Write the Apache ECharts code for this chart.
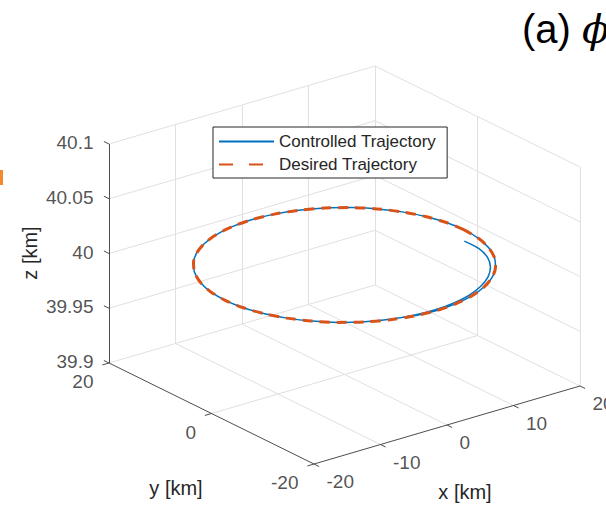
<!DOCTYPE html>
<html>
<head>
<meta charset="utf-8">
<script src="https://cdn.jsdelivr.net/npm/echarts@6/dist/echarts.min.js"></script>
<style>
    html, body { margin: 0; padding: 0; background: #fff; }
    #chart { width: 606px; height: 506px; }
</style>
</head>
<body>
<div id="chart"></div>
<script>
// axis ticks (km)
var xTicks = [-20, -10, 0, 10, 20];
var yTicks = [-20, 0, 20];
var zTicks = [39.9, 39.95, 40, 40.05, 40.1];

// desired circular trajectory, r = 18 km at 40 km
var desiredX = [18, 17.73, 16.91, 15.59, 13.79, 11.57, 9, 6.16, 3.13, 0, -3.13, -6.16, -9, -11.57, -13.79, -15.59, -16.91, -17.73,
    -18, -17.73, -16.91, -15.59, -13.79, -11.57, -9, -6.16, -3.13, 0, 3.13, 6.16, 9, 11.57, 13.79, 15.59, 16.91, 17.73, 18];
var desiredY = [0, 3.13, 6.16, 9, 11.57, 13.79, 15.59, 16.91, 17.73, 18, 17.73, 16.91, 15.59, 13.79, 11.57, 9, 6.16, 3.13,
    0, -3.13, -6.16, -9, -11.57, -13.79, -15.59, -16.91, -17.73, -18, -17.73, -16.91, -15.59, -13.79, -11.57, -9, -6.16, -3.13, 0];
var desiredZ = 40;

// controlled trajectory: starts inside the circle and settles onto it
var ctrlX = [15.86, 15.79, 14.90, 13.33, 11.25, 8.78, 6.02, 3.06, 0, -3.09, -6.11, -8.98, -11.57, -13.79, -15.59, -16.91, -17.73,
    -18, -17.73, -16.91, -15.59, -13.79, -11.57, -9, -6.16, -3.13, 0, 3.13, 6.16, 9, 11.57, 13.79, 15.59, 16.91, 17.73,
    18, 17.73, 16.91, 15.59, 13.79, 11.57, 9, 6.16, 3.13, 0, -3.13];
var ctrlY = [-2.80, -5.75, -8.60, -11.18, -13.41, -15.20, -16.54, -17.38, -17.72, -17.53, -16.80, -15.55, -13.79, -11.57, -9, -6.16, -3.13,
    0, 3.13, 6.16, 9, 11.57, 13.79, 15.59, 16.91, 17.73, 18, 17.73, 16.91, 15.59, 13.79, 11.57, 9, 6.16, 3.13,
    0, -3.13, -6.16, -9, -11.57, -13.79, -15.59, -16.91, -17.73, -18, -17.73];
var ctrlZ = 40;

var W = 606, H = 506;
var xMin = xTicks[0], xMax = xTicks[xTicks.length - 1];
var yMin = yTicks[0], yMax = yTicks[yTicks.length - 1];
var zMin = zTicks[0], zMax = zTicks[zTicks.length - 1];

// fixed 3d view: screen px of (xMin, yMin, zMin) and px per km along each axis
var view = {
    ox: 314, oy: 464,
    ex: [6.65, -1.95],
    ey: [-5.125, -2.525],
    ez: -1095
};
function proj(x, y, z) {
    var dx = x - xMin, dy = y - yMin, dz = z - zMin;
    return [
        view.ox + dx * view.ex[0] + dy * view.ey[0],
        view.oy + dx * view.ex[1] + dy * view.ey[1] + dz * view.ez
    ];
}

var gridSegs = [], axisSegs = [];
function seg(list, a, b) {
    list.push({ coords: [proj(a[0], a[1], a[2]), proj(b[0], b[1], b[2])] });
}
// floor + back walls
xTicks.forEach(function(x) {
    if (x === xMin) return;
    seg(gridSegs, [x, yMin, zMin], [x, yMax, zMin]);
    seg(gridSegs, [x, yMax, zMin], [x, yMax, zMax]);
});
yTicks.forEach(function(y) {
    if (y !== yMin) seg(gridSegs, [xMin, y, zMin], [xMax, y, zMin]);
    if (y !== yMax) seg(gridSegs, [xMax, y, zMin], [xMax, y, zMax]);
});
zTicks.forEach(function(z) {
    if (z === zMin) return;
    seg(gridSegs, [xMin, yMax, z], [xMax, yMax, z]);
    seg(gridSegs, [xMax, yMin, z], [xMax, yMax, z]);
});
// axis lines and outward ticks
seg(axisSegs, [xMin, yMin, zMin], [xMax, yMin, zMin]);
seg(axisSegs, [xMin, yMin, zMin], [xMin, yMax, zMin]);
seg(axisSegs, [xMin, yMax, zMin], [xMin, yMax, zMax]);
xTicks.forEach(function(x) { seg(axisSegs, [x, yMin, zMin], [x, yMin - 1, zMin]); });
yTicks.forEach(function(y) { seg(axisSegs, [xMin, y, zMin], [xMin - 1, y, zMin]); });
zTicks.forEach(function(z) { seg(axisSegs, [xMin, yMax, z], [xMin, yMax + 1, z]); });

var xLab = xTicks.map(function(x) { return { value: proj(x, yMin, zMin), name: String(x) }; });
var yLab = yTicks.map(function(y) { return { value: proj(xMin, y, zMin), name: String(y) }; });
var zLab = zTicks.map(function(z) { return { value: proj(xMin, yMax, z), name: String(z) }; });

var desired = desiredX.map(function(x, i) { return proj(x, desiredY[i], desiredZ); });
var ctrl = ctrlX.map(function(x, i) { return proj(x, ctrlY[i], ctrlZ); });

var FONT = 'Liberation Sans, Arial, Helvetica, sans-serif';
var TXT = '#262626';

function labelSeries(data, pos, align) {
    return {
        type: 'scatter',
        data: data,
        symbolSize: 1,
        itemStyle: { color: 'rgba(0,0,0,0)' },
        silent: true,
        label: {
            show: true,
            formatter: '{b}',
            position: pos,
            align: align,
            verticalAlign: 'middle',
            fontSize: 19,
            fontFamily: FONT,
            color: TXT
        }
    };
}

var chart = echarts.init(document.getElementById('chart'), null, { renderer: 'svg' });
chart.setOption({
    animation: false,
    backgroundColor: '#fff',
    title: {
        text: '(a) {p|ϕ}',
        left: 517,
        top: 4,
        textStyle: {
            fontSize: 40,
            fontWeight: 'normal',
            fontFamily: FONT,
            color: '#000',
            rich: {
                p: { fontSize: 40, fontStyle: 'italic', fontFamily: 'DejaVu Serif', color: '#000' }
            }
        }
    },
    legend: {
        data: [
            { name: 'Controlled Trajectory' },
            { name: 'Desired Trajectory', lineStyle: { type: [14, 16] } }
        ],
        orient: 'vertical',
        left: 213,
        top: 127,
        itemWidth: 55,
        itemHeight: 14,
        itemGap: 6,
        padding: [6, 11, 5, 5],
        borderColor: TXT,
        borderWidth: 1,
        backgroundColor: '#fff',
        selectedMode: false,
        itemStyle: { opacity: 0, borderWidth: 0 },
        textStyle: { fontSize: 17, fontFamily: FONT, color: TXT }
    },
    grid: { left: 0, right: 0, top: 0, bottom: 0 },
    xAxis: { type: 'value', min: 0, max: W, show: false },
    yAxis: { type: 'value', min: 0, max: H, inverse: true, show: false },
    series: [
        {
            type: 'lines',
            coordinateSystem: 'cartesian2d',
            data: gridSegs,
            silent: true,
            lineStyle: { color: '#e0e0e0', width: 1, opacity: 1 }
        },
        {
            type: 'lines',
            coordinateSystem: 'cartesian2d',
            data: axisSegs,
            silent: true,
            lineStyle: { color: '#4d4d4d', width: 1, opacity: 1 }
        },
        labelSeries(xLab, [13, 18], 'left'),
        labelSeries(yLab, [-15, 19], 'right'),
        labelSeries(zLab, [-15, -1], 'right'),
        {
            name: 'Controlled Trajectory',
            type: 'line',
            data: ctrl,
            smooth: 0.3,
            symbol: 'none',
            lineStyle: { color: '#0072BD', width: 1.5 },
            itemStyle: { color: '#0072BD' }
        },
        {
            name: 'Desired Trajectory',
            type: 'line',
            data: desired,
            smooth: 0.3,
            symbol: 'none',
            lineStyle: { color: '#D95319', width: 3, type: [10, 7] },
            itemStyle: { color: '#D95319' }
        }
    ],
    graphic: [
        { type: 'text', x: 176, y: 488, style: { text: 'y [km]', font: '20px ' + FONT, fill: TXT, align: 'center', verticalAlign: 'middle' } },
        { type: 'text', x: 465, y: 492, style: { text: 'x [km]', font: '20px ' + FONT, fill: TXT, align: 'center', verticalAlign: 'middle' } },
        { type: 'text', x: 30, y: 253, rotation: Math.PI / 2, style: { text: 'z [km]', font: '20px ' + FONT, fill: TXT, align: 'center', verticalAlign: 'middle' } },
        { type: 'rect', shape: { x: 0, y: 170, width: 3, height: 15 }, style: { fill: '#f28a2e' } }
    ]
});
</script>
</body>
</html>
